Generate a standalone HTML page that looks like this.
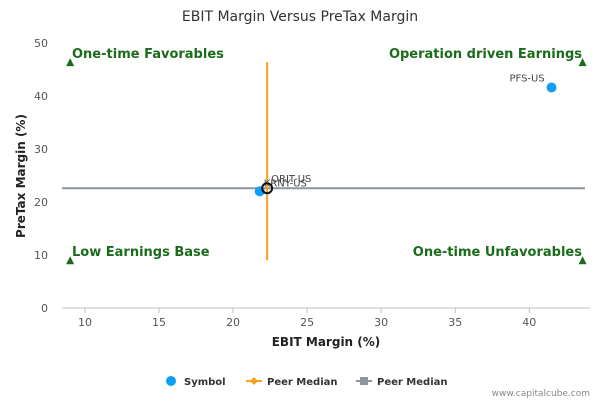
<!DOCTYPE html>
<html><head><meta charset="utf-8"><style>
body{margin:0;background:#fff;font-family:"DejaVu Sans",sans-serif}
svg text{font-family:"DejaVu Sans",sans-serif}
</style></head><body>
<svg id="chart" width="600" height="400">
<rect width="600" height="400" fill="#fff"/>
<text x="300" y="21" text-anchor="middle" font-size="14" fill="#333">EBIT Margin Versus PreTax Margin</text>
<g id="axes"></g>
<g id="marks"></g>
<text x="326" y="346" text-anchor="middle" font-size="12" font-weight="bold" fill="#222">EBIT Margin (%)</text>
<text transform="translate(25,176) rotate(-90)" text-anchor="middle" font-size="12" font-weight="bold" fill="#222">PreTax Margin (%)</text>
<g font-size="10" font-weight="bold" fill="#333">
<g><circle cx="171" cy="381" r="5" fill="#0fa0f5"/><text x="184" y="385">Symbol</text></g>
<g><line x1="246" y1="381" x2="262" y2="381" stroke="#f7a21b" stroke-width="2"/><path d="M254 377 L258 381 L254 385 L250 381Z" fill="#f7a21b"/><text x="267" y="385">Peer Median</text></g>
<g><line x1="356" y1="381" x2="372" y2="381" stroke="#8e949e" stroke-width="2"/><rect x="360" y="377" width="8" height="8" fill="#8e949e"/><text x="377" y="385">Peer Median</text></g>
</g>
<text x="590" y="396" text-anchor="end" font-size="9" fill="#888">www.capitalcube.com</text>
</svg>
<script>
const xTicks=[10,15,20,25,30,35,40];
const yTicks=[0,10,20,30,40,50];
const symbols=["PFS-US","KRNY-US","ORIT-US"];
const ebit=[41.5,21.8,22.3];
const pretax=[41.6,22.0,22.6];
const medianX=22.3, medianY=22.6;
const X0=62,X1=590,Y0=308,Y1=43;
const xMin=8.45,xMax=44.1,yMin=0,yMax=50;
const sx=v=>X0+(v-xMin)/(xMax-xMin)*(X1-X0);
const sy=v=>Y0-(v-yMin)/(yMax-yMin)*(Y0-Y1);
const NS="http://www.w3.org/2000/svg";
function mk(tag,attrs,parent,txt){const e=document.createElementNS(NS,tag);for(const k in attrs)e.setAttribute(k,attrs[k]);if(txt!==undefined)e.textContent=txt;parent.appendChild(e);return e;}
const axes=document.getElementById('axes'),marks=document.getElementById('marks');
let l=mk('line',{x1:X0,y1:Y0,x2:X1,y2:Y0,stroke:'#c0c0c0'},axes);


xTicks.forEach(t=>{let e=mk('line',{x1:sx(t),y1:Y0,x2:sx(t),y2:Y0+5,stroke:'#c0c0c0'},axes);


let tx=mk('text',{x:sx(t),y:Y0+18,'text-anchor':'middle','font-size':11,fill:'#555'},axes,t);

});
yTicks.forEach(t=>{let tx=mk('text',{x:48,y:sy(t)+4,'text-anchor':'end','font-size':11,fill:'#555'},axes,t);

});
const q=[["One-time Favorables",72,58,'start',9,46.4],["Operation driven Earnings",582,58,'end',43.6,46.4],["Low Earnings Base",72,256,'start',9,9],["One-time Unfavorables",582,256,'end',43.6,9]];
q.forEach(a=>{let tx=mk('text',{x:a[1],y:a[2],'text-anchor':a[3],'font-size':13,'font-weight':'bold',fill:'#1a6b1a'},axes,a[0]);


const cx=sx(a[4]),cy=sy(a[5]);
let tr=mk('path',{d:`M${cx} ${cy-4} L${cx+4} ${cy+4} L${cx-4} ${cy+4}Z`,fill:'#1a6b1a'},axes);

});
let h=mk('line',{x1:X0,y1:sy(medianY),x2:585,y2:sy(medianY),stroke:'#8e949e','stroke-width':2},marks);


let v=mk('line',{x1:sx(medianX),y1:sy(46.4),x2:sx(medianX),y2:sy(9),stroke:'#f7a21b','stroke-width':2},marks);


symbols.forEach((s,i)=>{const cx=sx(ebit[i]),cy=sy(pretax[i]);
let c;
if(s==="ORIT-US"){c=mk('circle',{cx:cx,cy:cy,r:5,fill:'none',stroke:'#111','stroke-width':2},marks);}
else{c=mk('circle',{cx:cx,cy:cy,r:5,fill:'#0fa0f5'},marks);}


const dx=s==="PFS-US"?-42:4, dy=s==="PFS-US"?-6:(s==="ORIT-US"?-6:-5);
let t=mk('text',{x:cx+dx,y:cy+dy,'font-size':10,fill:'#444'},marks,s);

});
</script>
</body></html>
